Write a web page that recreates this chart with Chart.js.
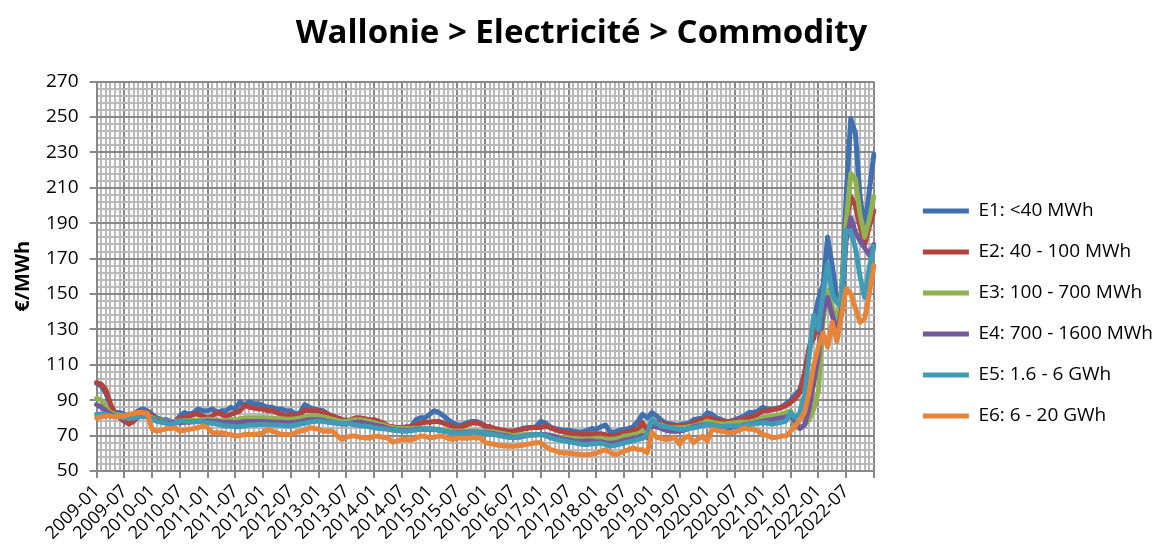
<!DOCTYPE html>
<html>
<head>
<meta charset="utf-8">
<script src="https://cdn.jsdelivr.net/npm/chart.js@4.4.1/dist/chart.umd.min.js"></script>
<style>
  html, body { margin: 0; padding: 0; background: #fff; }
  #wrap { width: 1163px; height: 547px; position: relative; }
</style>
</head>
<body>
<div id="wrap"><canvas id="chart"></canvas></div>
<script>
const chartTitle = 'Wallonie > Electricité > Commodity';
const yTitle = '€/MWh';
const seriesNames = ['E1: <40 MWh', 'E2: 40 - 100 MWh', 'E3: 100 - 700 MWh',
  'E4: 700 - 1600 MWh', 'E5: 1.6 - 6 GWh', 'E6: 6 - 20 GWh'];
const seriesColors = ['#4170b0', '#b3433f', '#8fb14f', '#73589b', '#3e9cb6', '#e8843a'];

// monthly categories 2009-01 .. 2023-01
const months = [];
for (let y = 2009; y <= 2022; y++) {
  for (let m = 1; m <= 12; m++) months.push(y + '-' + String(m).padStart(2, '0'));
}
months.push('2023-01');

// one row per year
const e1 = [
  99.5, 98, 94, 87, 83, 83, 82, 81, 82, 84, 85, 84,
  82, 80, 79, 79, 78, 78, 81, 83, 82, 83, 85, 84,
  84, 85, 83, 84, 84, 86, 85, 89, 87, 89, 88, 88,
  87, 86, 86, 85, 85, 84, 84, 82, 83, 87.5, 86, 85,
  84.5, 84, 82, 81, 80, 79, 78.2, 78.5, 79, 78.5, 78.5, 78,
  78, 77, 76, 74.5, 74, 74, 74, 74.5, 75, 79, 80, 80,
  82, 84, 83, 81, 79, 77, 76, 76, 77, 78, 78, 77,
  75, 75, 74, 73, 72.5, 72.5, 72.5, 73, 74, 74.5, 74.5, 75,
  78, 77, 75, 74, 73.5, 73, 73, 72.5, 72, 72, 73, 74,
  73.5, 75, 76, 72, 72, 73, 73.5, 74, 75, 78, 82, 80,
  83, 81, 79, 77, 76.5, 76, 76, 76.5, 77, 79, 79.5, 80,
  83, 82, 80, 79, 78, 78, 79, 80, 81, 83, 83, 84,
  86, 85, 85, 85.5, 86, 88, 90, 93, 96, 105, 117, 134,
  147, 155, 182, 166, 148, 150, 205, 249, 241, 205, 187, 208,
  229
];
const e2 = [
  100, 99, 96, 88, 82, 80, 78, 76.5, 78, 81, 83, 83,
  81, 79, 78, 77.5, 77, 78, 80, 80, 81, 82, 82, 81,
  80, 81, 83, 82, 81, 82, 83, 84, 87, 86, 85.5, 85,
  85, 84, 84, 83, 82, 81, 82, 81, 82, 84.5, 84, 84,
  84, 83, 82, 81, 80, 79, 78.5, 79, 80, 80, 79.5, 79,
  79, 78, 77, 75.5, 75, 74.5, 74.5, 75, 75, 76, 77, 77.5,
  77.5, 78, 78, 77, 76, 75, 74.5, 75, 76, 77, 77.3, 76.5,
  75.4, 75, 74, 73.5, 73, 72.5, 72.5, 73, 73.5, 74, 74.5, 74.5,
  74.5, 75.4, 74.5, 73.5, 72.5, 72, 71.6, 71, 70.5, 70.6, 70.6, 71,
  71, 71, 70.5, 69.7, 69.7, 70.5, 71.6, 72, 73, 73.5, 77.3, 72.5,
  78.2, 77.5, 77, 76.3, 76, 75.5, 75.4, 75.5, 76, 77.3, 78, 79,
  80.1, 79.5, 79, 78.2, 78, 78, 78.2, 79, 79.5, 80.1, 81, 82,
  83.9, 84, 84.5, 85, 85.8, 87, 88.7, 91, 94.4, 105, 120, 125,
  135, 140, 150, 140, 128, 148, 190, 205, 200, 188, 178, 188,
  197
];
const e3 = [
  91, 90, 86, 83, 82, 81.5, 81, 80, 80, 81, 82, 81.5,
  80, 79, 78.5, 78, 78, 78, 78.2, 78.5, 78.5, 78.5, 78.5, 79,
  79.2, 79, 79, 78.5, 78.5, 79, 79, 79.5, 80, 80, 80, 80,
  80, 80, 79.8, 79.5, 79.5, 79.3, 79.2, 79.5, 80, 80.5, 81, 81,
  81, 80.5, 80, 79.2, 78.5, 78, 78, 78.5, 79, 79, 78.5, 78,
  77.3, 76.5, 76, 75, 74.5, 74, 74, 74, 74, 74.2, 74, 73.8,
  73.5, 73.5, 73.5, 73.2, 73, 72.5, 72.5, 72.5, 72.6, 72.6, 72.6, 72.5,
  72.5, 72.3, 72, 71.5, 71, 70.5, 70.1, 70.3, 70.5, 70.6, 70.6, 70.6,
  70.6, 70.5, 70, 69.5, 69, 68.8, 68.7, 68.5, 68.2, 68, 68, 68.2,
  68.5, 68.5, 68, 67.8, 68, 68.5, 69.7, 70, 70.5, 71, 72.5, 70,
  77.3, 76.5, 76, 75, 74.5, 74.4, 74.4, 74.5, 75, 75.4, 76, 77,
  78.2, 77.5, 77, 76.5, 76.5, 77, 77.3, 77.5, 77.5, 77.5, 78, 79,
  80, 80.5, 81, 81.5, 82, 83, 84, 75, 74, 76, 79, 85,
  95, 135, 152, 143, 133, 150, 190, 218, 215, 195, 182, 192,
  205
];
const e4 = [
  87.5, 86, 84, 82, 81, 80.5, 80, 80, 80, 80.5, 81, 80.5,
  79.5, 78.5, 78, 77.5, 77.5, 77.3, 77.3, 77.5, 77.5, 77.8, 78, 78,
  78.2, 78, 78, 77.5, 77.5, 77.5, 77.3, 77.5, 78, 78, 78, 78,
  78, 77.8, 77.6, 77.5, 77.5, 77.3, 77.3, 77.5, 78, 78.5, 79, 79,
  79, 78.5, 78, 77.5, 77, 76.5, 76.5, 77, 77.5, 77.5, 77, 76.5,
  76, 75.5, 75, 74, 73.5, 73, 73, 73, 73, 73.5, 73.5, 73.5,
  73.5, 73.5, 73, 72.5, 72, 71.8, 71.6, 71.6, 71.8, 72, 72, 71.8,
  71.6, 71.4, 71, 70.5, 70, 69.5, 69, 69, 69.5, 70, 70.3, 70.5,
  70.8, 70.5, 70, 69.5, 68.5, 68, 67.5, 67, 66.8, 66.8, 67, 67,
  66.5, 66.5, 66, 65.5, 66, 66.5, 67.5, 67.8, 68.5, 69, 70, 69,
  75.4, 75, 74, 73, 72.5, 72.5, 72.5, 73, 74, 75, 75.5, 76,
  76.3, 76, 75.5, 75, 74.4, 74.5, 75, 75.5, 76, 76.5, 77, 77.5,
  78.2, 78.5, 79, 79.5, 80, 80.5, 81, 78, 74, 76, 85, 100,
  115, 140, 148, 138, 128, 140, 180, 193, 185, 180, 176, 172,
  178
];
const e5 = [
  82, 82, 82, 81, 81, 80.5, 80, 80, 80, 80.5, 81, 80.5,
  79.2, 78, 77.5, 77, 76.3, 77, 78.2, 78.2, 78, 78, 78, 77.5,
  77.3, 77, 76.5, 76, 75.4, 75.4, 75, 75, 75.5, 76, 76, 76.3,
  76.3, 76.2, 76, 76, 75.8, 75.6, 75.4, 76, 76.5, 77, 77.5, 78,
  78.2, 78, 77.5, 77.3, 77, 76.9, 76.9, 76.5, 76, 75.6, 75.4, 75,
  74.4, 74, 73.8, 73.5, 73, 72.8, 72.5, 72.5, 72.8, 73.2, 73.5, 73.8,
  73.9, 73.5, 73, 72.5, 72, 71.5, 71.2, 71.2, 71.5, 71.8, 72, 71.8,
  71.2, 71, 70.5, 70, 69.5, 69, 68.7, 69, 69.5, 70, 70.3, 70.5,
  70.6, 70, 69, 68, 67.5, 67, 66.5, 66, 65.5, 65, 65, 65.3,
  65.5, 65.5, 65, 64, 64.5, 65, 65.9, 66.5, 67, 67.8, 68.5, 70.6,
  79.2, 77, 75.4, 75, 74.5, 74, 73.5, 73.5, 74, 74.4, 75, 75.5,
  76.3, 76, 75.5, 75, 75.2, 75.4, 75.4, 75.6, 76, 76.3, 76.5, 77,
  77.3, 77, 76.3, 77, 77.5, 78.2, 83, 80, 83, 93, 115, 138,
  130, 150, 167, 150, 145, 143, 186, 185, 176, 160, 148, 165,
  177
];
const e6 = [
  80, 80.5, 81, 81, 80.5, 81, 81, 82, 82.5, 83, 83, 82.5,
  73.5, 72.5, 73, 73.9, 74, 74.4, 72.5, 73, 73.5, 74, 74.5, 75.4,
  74.4, 71.6, 71.6, 71.6, 71, 70.5, 69.7, 70, 70.6, 70.6, 70.6, 71,
  71.5, 73.5, 72.5, 71.5, 70.6, 70.6, 70.6, 71.6, 72.5, 73, 74.4, 74,
  73.5, 72.5, 72.5, 72.5, 70, 67.8, 69, 69.7, 69.7, 69, 68.7, 68.5,
  69.7, 69.5, 69, 68.5, 66.3, 67, 67.8, 67.8, 67.5, 68.5, 69.7, 69.5,
  68.7, 69, 69.7, 69.5, 68.5, 67.8, 68.7, 68.5, 68.5, 68.7, 68.7, 68.5,
  65.9, 65.5, 65, 64.4, 64.2, 64, 64, 64.2, 64.5, 65, 65.5, 65.9,
  65.9, 64, 62.1, 61.5, 60.5, 60.2, 60, 59.8, 59.5, 59.2, 59.2, 59.5,
  60, 61.1, 62.1, 60.5, 59.2, 60, 61.1, 62, 63, 62.1, 62, 60.2,
  72, 69, 68.5, 67.8, 68.2, 68.7, 65, 68.5, 69.7, 66, 68, 69.7,
  67, 73.5, 73, 72.5, 72, 71.6, 72, 73, 74.4, 73.5, 73.5, 72.5,
  70.6, 70, 68.7, 69, 69.7, 69.7, 72.5, 75.4, 79, 83, 94.4, 110,
  120, 128, 120, 134, 123, 138, 153, 150, 142, 134, 136, 150,
  166
];
const seriesData = [e1, e2, e3, e4, e5, e6];

const yMin = 50, yMax = 270, yStep = 4, yLabelStep = 20, xLabelStep = 6;
const MAJOR = '#888888', MINOR = '#b9b9b9';
const FONT = "'Open Sans', sans-serif";

Chart.defaults.font.family = FONT;
Chart.defaults.color = '#000';

new Chart(document.getElementById('chart'), {
  type: 'line',
  data: {
    labels: months,
    datasets: seriesNames.map((name, i) => ({
      label: name,
      data: seriesData[i],
      borderColor: seriesColors[i],
      backgroundColor: seriesColors[i],
      borderWidth: 5,
      borderJoinStyle: 'round',
      borderCapStyle: 'round',
      pointRadius: 0,
      pointHoverRadius: 0,
      tension: 0,
      fill: false,
      order: seriesNames.length - i
    }))
  },
  options: {
    responsive: true,
    maintainAspectRatio: false,
    animation: false,
    events: [],
    layout: { padding: { left: 0, right: 0, top: 0, bottom: 0 } },
    plugins: {
      tooltip: { enabled: false },
      title: {
        display: true,
        text: chartTitle,
        color: '#000',
        font: { size: 33, weight: 'bold' },
        padding: { top: 14, bottom: 28 }
      },
      legend: {
        position: 'right',
        maxWidth: 320,
        title: { display: true, text: '', font: { size: 10 }, padding: { top: 68, bottom: 0 } },
        labels: {
          usePointStyle: true,
          pointStyle: 'line',
          pointStyleWidth: 46,
          padding: 22,
          color: '#000',
          font: { size: 19 },
          sort: (a, b) => a.datasetIndex - b.datasetIndex
        }
      }
    },
    scales: {
      x: {
        type: 'category',
        offset: false,
        grid: {
          color: ctx => ctx.index % xLabelStep === 0 ? MAJOR : MINOR,
          lineWidth: 2,
          tickColor: ctx => ctx.index % xLabelStep === 0 ? MAJOR : 'rgba(0,0,0,0)',
          tickLength: 7
        },
        border: { color: MAJOR, width: 2 },
        ticks: {
          autoSkip: false,
          maxRotation: 45,
          minRotation: 45,
          padding: 3,
          color: '#000',
          font: { size: 18 },
          callback: function (val, i) {
            return (i % xLabelStep === 0 && i < months.length - 1) ? this.getLabelForValue(val) : '';
          }
        }
      },
      y: {
        min: yMin,
        max: yMax,
        grid: {
          color: ctx => (ctx.tick && (ctx.tick.value - yMin) % yLabelStep === 0) ? MAJOR : MINOR,
          lineWidth: 2,
          tickColor: ctx => (ctx.tick && (ctx.tick.value - yMin) % yLabelStep === 0) ? MAJOR : 'rgba(0,0,0,0)',
          tickLength: 7
        },
        border: { color: MAJOR, width: 2 },
        ticks: {
          stepSize: yStep,
          autoSkip: false,
          padding: 11,
          color: '#000',
          font: { size: 19 },
          callback: v => ((v - yMin) % yLabelStep === 0 ? String(v) : '')
        },
        title: {
          display: true,
          text: yTitle,
          color: '#000',
          font: { size: 20, weight: 'bold' },
          padding: { top: 11, bottom: 0 }
        }
      },
      gap: {
        type: 'linear',
        position: 'right',
        grid: { display: false, drawTicks: false },
        border: { display: false },
        ticks: { display: false },
        afterFit: s => { s.width = 27; }
      }
    }
  }
});
</script>
</body>
</html>
